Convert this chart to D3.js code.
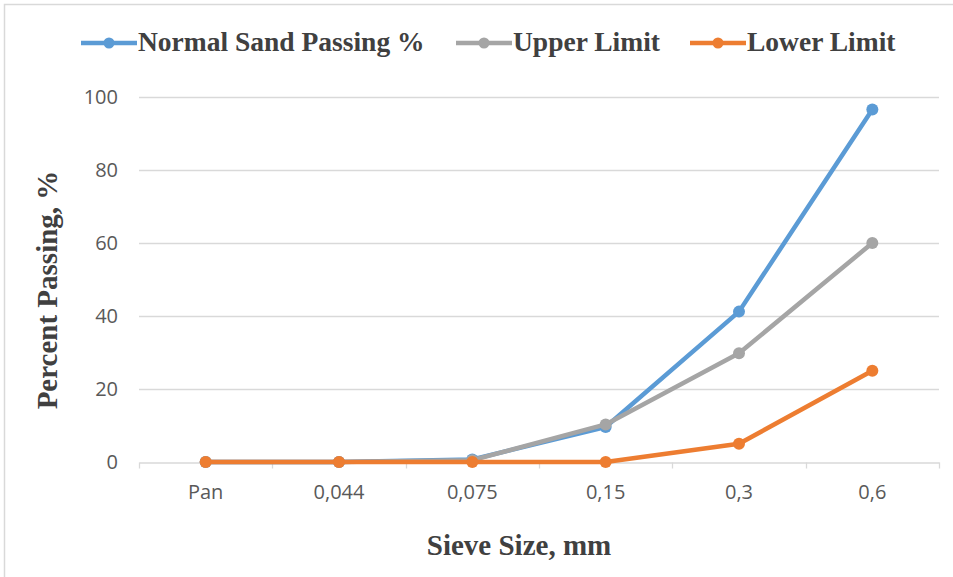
<!DOCTYPE html>
<html>
<head>
<meta charset="utf-8">
<script src="https://cdn.jsdelivr.net/npm/d3@7"></script>
<style>
  html, body { margin: 0; padding: 0; background: #fff; }
  svg { display: block; }
</style>
</head>
<body>
<svg id="chart" width="953" height="577"></svg>
<script>
// Sieve sizes (mm) and percent passing for each series
const sieves = ["Pan", "0,044", "0,075", "0,15", "0,3", "0,6"];
const normalSand = [0, 0, 0.7, 9.6, 41.2, 96.6];
const upperLimit = [0, 0, 0.5, 10.3, 29.8, 60];
const lowerLimit = [0, 0, 0, 0, 5, 25];
const yTicks = [0, 20, 40, 60, 80, 100];

const series = [
  { name: "Normal Sand Passing %", values: normalSand, color: "#5B9BD5" },
  { name: "Upper Limit", values: upperLimit, color: "#A5A5A5" },
  { name: "Lower Limit", values: lowerLimit, color: "#ED7D31" }
];

const svg = d3.select("#chart");
const plot = { left: 139, right: 939, top: 97, bottom: 462 };
const tickFont = "'Open Sans', 'Liberation Sans', sans-serif";
const titleFont = "'Liberation Serif', 'Times New Roman', serif";

// outer frame
svg.append("rect")
  .attr("x", 4.5).attr("y", 4.5)
  .attr("width", 980).attr("height", 620)
  .attr("fill", "none").attr("stroke", "#d9d9d9").attr("stroke-width", 1.5);

const x = d3.scaleBand().domain(sieves).range([plot.left, plot.right]);
const y = d3.scaleLinear().domain([0, 100]).range([plot.bottom, plot.top]);

// horizontal gridlines
svg.append("g")
  .selectAll("line")
  .data(yTicks.filter(d => d !== 0))
  .join("line")
  .attr("x1", plot.left).attr("x2", plot.right)
  .attr("y1", d => Math.round(y(d)) + 0.5).attr("y2", d => Math.round(y(d)) + 0.5)
  .attr("stroke", "#d9d9d9").attr("stroke-width", 1.3);

// y axis labels
const yAxis = svg.append("g")
  .attr("transform", `translate(${plot.left},0)`)
  .call(d3.axisLeft(y).tickValues(yTicks).tickSize(0).tickPadding(21));
yAxis.select(".domain").remove();
yAxis.selectAll("text")
  .attr("fill", "#595959")
  .style("font-family", tickFont)
  .style("font-size", "20px");

// x axis
const xAxis = svg.append("g")
  .attr("transform", `translate(0,${Math.round(plot.bottom) + 0.5})`)
  .call(d3.axisBottom(x).tickSize(0));
xAxis.select(".domain").attr("stroke", "#d9d9d9").attr("stroke-width", 1.3);
xAxis.selectAll("text")
  .attr("y", 36)
  .attr("dy", null)
  .attr("fill", "#595959")
  .style("font-family", tickFont)
  .style("font-size", "20px");
// category boundary ticks
xAxis.append("g")
  .selectAll("line")
  .data(sieves.map(s => x(s)).concat([plot.right]))
  .join("line")
  .attr("x1", d => Math.round(d) + 0.5).attr("x2", d => Math.round(d) + 0.5)
  .attr("y1", 0).attr("y2", 6)
  .attr("stroke", "#d9d9d9").attr("stroke-width", 1.3);

// series lines and markers
const line = d3.line()
  .x((d, i) => x(sieves[i]) + x.bandwidth() / 2)
  .y(d => y(d));

series.forEach(s => {
  const g = svg.append("g");
  g.append("path")
    .datum(s.values)
    .attr("d", line)
    .attr("fill", "none")
    .attr("stroke", s.color)
    .attr("stroke-width", 4.5)
    .attr("stroke-linejoin", "round")
    .attr("stroke-linecap", "round");
  g.selectAll("circle")
    .data(s.values)
    .join("circle")
    .attr("cx", (d, i) => x(sieves[i]) + x.bandwidth() / 2)
    .attr("cy", d => y(d))
    .attr("r", 6)
    .attr("fill", s.color);
});

// axis titles
svg.append("text")
  .attr("x", 519).attr("y", 555)
  .attr("text-anchor", "middle")
  .attr("fill", "#404040")
  .style("font-family", titleFont)
  .style("font-weight", "bold")
  .style("font-size", "29px")
  .text("Sieve Size, mm");

svg.append("text")
  .attr("transform", "translate(57,290) rotate(-90)")
  .attr("text-anchor", "middle")
  .attr("fill", "#404040")
  .style("font-family", titleFont)
  .style("font-weight", "bold")
  .style("font-size", "29px")
  .text("Percent Passing, %");

// legend
const legendItems = [
  { s: series[0], x: 81 },
  { s: series[1], x: 456 },
  { s: series[2], x: 690 }
];
const legendY = 43;
legendItems.forEach(item => {
  const g = svg.append("g");
  g.append("line")
    .attr("x1", item.x).attr("x2", item.x + 56)
    .attr("y1", legendY).attr("y2", legendY)
    .attr("stroke", item.s.color).attr("stroke-width", 4.5);
  g.append("circle")
    .attr("cx", item.x + 28).attr("cy", legendY)
    .attr("r", 5.5).attr("fill", item.s.color);
  g.append("text")
    .attr("x", item.x + 57).attr("y", legendY + 8)
    .attr("fill", "#404040")
    .style("font-family", titleFont)
    .style("font-weight", "bold")
    .style("font-size", "27.5px")
    .text(item.s.name);
});
</script>
</body>
</html>
